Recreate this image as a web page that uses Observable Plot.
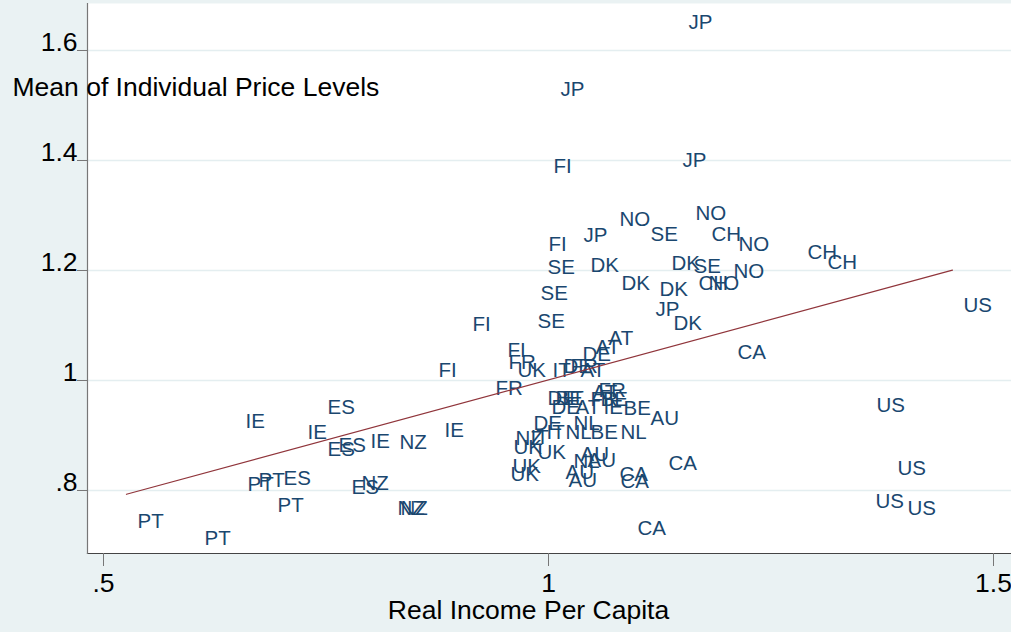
<!DOCTYPE html>
<html><head><meta charset="utf-8">
<script src="https://cdn.jsdelivr.net/npm/d3@7"></script>
<script src="https://cdn.jsdelivr.net/npm/@observablehq/plot@0.6"></script>
<style>
html,body{margin:0;padding:0;background:#eaf2f3;}
#chart{width:1011px;height:632px;overflow:hidden;}
</style></head><body><div id="chart"></div>
<script>
const codes = [
 "PT","PT","PT","PT","PT",
 "ES","ES","ES","ES","ES",
 "IE","IE","IE","IE","IE",
 "NZ","NZ","NZ","NZ","NZ",
 "FI","FI","FI","FI","FI",
 "FR","FR","FR","FR","FR",
 "UK","UK","UK","UK","UK",
 "IT","IT","IT","IT",
 "DE","DE","DE","DE","DE",
 "AT","AT","AT","AT","AT",
 "BE","BE","BE","BE",
 "NL","NL","NL","NL",
 "AU","AU","AU","AU","AU",
 "CA","CA","CA","CA","CA",
 "DK","DK","DK","DK","DK",
 "SE","SE","SE","SE","SE",
 "NO","NO","NO","NO","NO",
 "CH","CH","CH","CH",
 "JP","JP","JP","JP","JP",
 "US","US","US","US","US"
];
const income = [
 0.5258,0.6011,0.6494,0.6618,0.6831,
 0.7393,0.7393,0.7517,0.6899,0.7663,
 0.6472,0.7169,0.7876,0.8708,1.0494,
 0.8202,0.7775,0.8180,0.8213,0.9506,
 0.9933,0.9876,0.9022,0.8640,0.9416,
 0.9427,0.9281,1.0438,1.0124,1.0348,
 0.9528,0.9483,0.9753,0.9472,0.9449,
 0.9921,0.9674,0.9854,1.0067,
 1.0258,1.0045,0.9865,0.9910,0.9708,
 1.0551,1.0404,1.0236,1.0371,1.0180,
 0.9955,1.0719,1.0348,1.0461,
 1.0157,1.0067,1.0685,1.0157,
 1.1022,1.0236,1.0315,1.0067,1.0101,
 1.2000,1.1225,1.0674,1.0685,1.0876,
 1.0348,1.1258,1.0697,1.1124,1.1281,
 1.1022,0.9865,1.1506,0.9787,0.9753,
 1.0674,1.1528,1.2011,1.1955,1.1674,
 1.1708,1.1562,1.2787,1.3011,
 1.1449,1.0011,1.1382,1.0270,1.1079,
 1.4539,1.3562,1.3798,1.3551,1.3910
];
const price = [
 0.7436,0.7127,0.8109,0.8182,0.7727,
 0.9509,0.8745,0.8818,0.8218,0.8055,
 0.9255,0.9055,0.8891,0.9091,0.9509,
 0.8873,0.8127,0.7673,0.7673,0.8945,
 1.3891,1.2473,1.1018,1.0182,1.0545,
 1.0327,0.9855,0.9818,1.0255,0.9655,
 1.0182,0.8782,0.8691,0.8436,0.8291,
 1.0182,0.8964,0.9055,0.9673,
 1.0473,1.0255,0.9673,0.9509,0.9218,
 1.0764,1.0600,1.0182,0.9782,0.9509,
 0.9673,0.9491,0.9055,0.9655,
 0.9218,0.9055,0.9055,0.8527,
 0.9309,0.8655,0.8545,0.8327,0.8182,
 1.0509,0.8491,0.8291,0.8164,0.7309,
 1.2091,1.2127,1.1764,1.1655,1.1036,
 1.2655,1.2055,1.2073,1.1582,1.1073,
 1.2927,1.3036,1.2473,1.1982,1.1764,
 1.2655,1.1764,1.2327,1.2145,
 1.6509,1.5291,1.4000,1.2636,1.1291,
 1.1364,0.9545,0.8400,0.7800,0.7673
];
const xTicks = [0.5, 1, 1.5];
const yTicks = [0.8, 1, 1.2, 1.4, 1.6];
const xTitle = "Real Income Per Capita";
const yTitle = "Mean of Individual Price Levels";

const data = codes.map((c, i) => ({code: c, x: income[i], y: price[i]}));
const fmt = d => String(d).replace(/^0\./, ".");
const FONT = "'Liberation Sans', Arial, Helvetica, sans-serif";
const AXF = 26.5;

const chart = Plot.plot({
  width: 1011, height: 632,
  marginLeft: 87, marginRight: 0, marginTop: 3, marginBottom: 79,
  style: {background: "#eaf2f3", fontFamily: FONT, overflow: "visible"},
  x: {domain: [0.48202, 1.52022]},
  y: {domain: [0.68545, 1.68545]},
  marks: [
    Plot.frame({fill: "white", stroke: null}),
    Plot.gridY(yTicks, {stroke: "#e4eef0", strokeOpacity: 1, strokeWidth: 1.5}),
    Plot.frame({anchor: "bottom", stroke: "#444", strokeWidth: 1.2}),
    Plot.frame({anchor: "left", stroke: "#777", strokeWidth: 1.2}),
    Plot.axisY(yTicks, {tickSize: 10, tickFormat: () => "", label: null, stroke: "#777"}),
    Plot.text(yTicks, {frameAnchor: "left", y: d => d, text: fmt, dx: -10, dy: -8, textAnchor: "end", fontSize: AXF, fill: "black"}),
    Plot.axisX(xTicks, {tickSize: 13, tickPadding: 7, tickFormat: fmt, fontSize: AXF, label: null, stroke: "#777", fill: "black"}),
    Plot.text([xTitle], {frameAnchor: "bottom", dx: -21, dy: 57, fontSize: AXF, fill: "black", lineAnchor: "middle"}),
    Plot.text([yTitle], {frameAnchor: "top-left", dx: -75, dy: 84, textAnchor: "start", lineAnchor: "middle", fontSize: AXF, fill: "black"}),
    Plot.text(data, {x: "x", y: "y", text: "code", textAnchor: "start", dx: 11, fill: "#1a476f", fontSize: 20.5}),
    Plot.linearRegressionY(data, {x: "x", y: "y", stroke: "#90353b", strokeWidth: 1.2, ci: 0})
  ]
});
document.getElementById("chart").appendChild(chart);
</script></body></html>
